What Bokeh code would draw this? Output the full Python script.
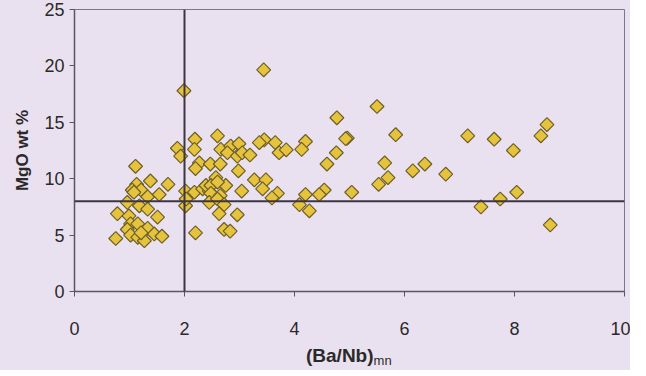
import numpy as np
from bokeh.plotting import figure
from bokeh.layouts import column
from bokeh.models import ColumnDataSource, Span, FixedTicker, Div
from bokeh.embed import file_html
from bokeh.resources import INLINE

# (Ba/Nb)mn values
ba_nb = [
    1.11, 1.38, 1.70, 1.13, 1.05, 1.21, 1.33, 1.54, 0.96, 1.18,
    1.33, 0.78, 1.51, 0.99, 1.02, 1.15, 1.33, 0.96, 1.02, 0.75,
    1.15, 1.27, 1.45, 1.59, 1.21, 1.08, 1.87, 1.93, 1.99,
    2.02, 2.02, 2.03, 2.18, 2.33, 2.45, 2.19, 2.18, 2.27, 2.20,
    2.60, 2.66, 2.84, 2.99, 2.78, 2.96, 3.05, 3.19, 3.45, 3.65,
    3.36, 3.72, 3.85, 2.47, 2.65, 2.98, 2.57, 2.75, 2.39, 2.48,
    2.60, 3.27, 3.48, 3.42, 3.04, 3.69, 3.59, 2.48, 2.65, 2.45,
    2.60, 2.72, 2.63, 2.96, 2.20, 2.72, 2.83, 3.44,
    4.20, 5.50, 4.77, 5.84, 4.96, 4.13, 4.76, 4.59, 5.64, 5.70,
    5.53, 6.15, 4.54, 4.45, 4.20, 5.04, 4.09, 4.27, 6.37, 6.75,
    7.15, 7.63, 7.98, 8.48, 8.59, 7.39, 7.74, 8.04, 8.65, 4.93,
]
# MgO wt %
mgo = [
    11.1, 9.8, 9.5, 9.5, 9.0, 9.0, 8.4, 8.6, 7.9, 7.6,
    7.3, 6.9, 6.6, 6.7, 6.0, 6.0, 5.6, 5.5, 5.0, 4.7,
    4.8, 4.5, 5.1, 4.9, 5.2, 8.8, 12.7, 12.0, 17.8,
    8.9, 7.6, 8.2, 8.8, 9.1, 8.9, 13.5, 12.6, 11.4, 10.9,
    13.8, 12.6, 12.9, 13.1, 12.3, 12.0, 12.3, 12.1, 13.45, 13.2,
    13.2, 12.3, 12.56, 11.3, 11.3, 10.7, 10.1, 9.4, 9.4, 9.4,
    9.7, 9.9, 9.9, 9.1, 8.9, 8.7, 8.3, 8.7, 8.5, 7.9,
    8.2, 7.7, 6.9, 6.8, 5.2, 5.5, 5.35, 19.65,
    13.3, 16.4, 15.4, 13.9, 13.6, 12.6, 12.3, 11.3, 11.4, 10.1,
    9.5, 10.7, 9.0, 8.6, 8.6, 8.8, 7.7, 7.15, 11.3, 10.4,
    13.8, 13.5, 12.5, 13.8, 14.8, 7.5, 8.2, 8.8, 5.9, 13.55,
]
x_ticks = [0, 2, 4, 6, 8, 10]
y_ticks = [0, 5, 10, 15, 20, 25]
ref_x = 2
ref_y = 8

BG = "#eae1f0"
FONT = "Liberation Sans"
TXT = "#2a2a2a"

p = figure(
    width=630, height=335,
    frame_width=550, frame_height=282,
    x_range=(0, 10), y_range=(0, 25),
    output_backend="svg", toolbar_location=None,
    min_border_left=74, min_border_right=6,
    min_border_top=9, min_border_bottom=44,
)
p.background_fill_color = BG
p.border_fill_color = BG
p.outline_line_color = "#7d7785"
p.outline_line_width = 1
p.grid.visible = False

for ax in (p.xaxis[0], p.yaxis[0]):
    ax.axis_line_color = "#5a5560"
    ax.axis_line_width = 1.5
    ax.major_tick_line_color = "#5a5560"
    ax.major_tick_out = 5
    ax.major_tick_in = 0
    ax.minor_tick_line_color = None
    ax.major_label_text_font = FONT
    ax.major_label_text_font_size = "18px"
    ax.major_label_text_color = TXT

p.xaxis.ticker = FixedTicker(ticks=x_ticks)
p.yaxis.ticker = FixedTicker(ticks=y_ticks)
p.xaxis.major_label_standoff = 25
p.yaxis.major_label_standoff = 5

p.yaxis.axis_label = "MgO wt %"
p.yaxis.axis_label_text_font = FONT
p.yaxis.axis_label_text_font_style = "bold"
p.yaxis.axis_label_text_font_size = "17px"
p.yaxis.axis_label_text_color = TXT
p.yaxis.axis_label_standoff = 9

p.add_layout(Span(location=ref_x, dimension="height", line_color="#3d3545", line_width=2))
p.add_layout(Span(location=ref_y, dimension="width", line_color="#3d3545", line_width=2))

src = ColumnDataSource(dict(x=ba_nb, y=mgo))
p.scatter("x", "y", source=src, marker="square", angle=np.pi / 4, size=9.8,
          fill_color="#e5c33c", line_color="#6e5f28", line_width=1.2)

title_html = (
    '<div style="margin-left:306px; padding-top:8px; white-space:nowrap; '
    'font-family:\'Liberation Sans\'; font-size:19px; font-weight:bold; '
    'color:%s; line-height:22px;">(Ba/Nb)'
    '<span style="font-weight:normal; font-size:13px; position:relative; top:3px;">mn</span>'
    '</div>' % TXT
)
div = Div(text=title_html, width=630, height=33,
          styles={"background-color": BG, "margin": "0", "padding": "0"})

layout = column(p, div, spacing=0, styles={"background-color": BG})
open("out.html", "w").write(file_html(layout, INLINE))
